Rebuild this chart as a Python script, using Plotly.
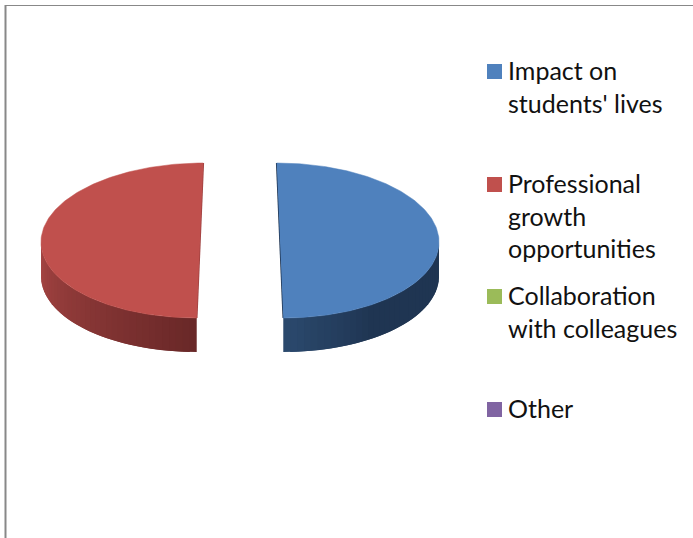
import numpy as np
import plotly.graph_objects as go

categories = ["Impact on<br>students' lives", "Professional<br>growth<br>opportunities",
              "Collaboration<br>with colleagues", "Other"]
values = [50, 50, 0, 0]
top_colors = ["#4f81bd", "#c0504d", "#9bbb59", "#8064a2"]
legend_y = [71.5, 184.5, 296.5, 409.5]

W, H = 693, 538
CX, CY = 240, 240.5
R, RY = 159, 77.5
DEPTH, EXPLODE, PERSP = 34, 40, 0.082


def project(theta, dirx):
    s = 1 - PERSP * np.cos(theta)
    return CX + EXPLODE * dirx * s + R * np.sin(theta), CY - RY * np.cos(theta)


def mix(a, b, t):
    return "rgb(%d,%d,%d)" % tuple(a[i] + (b[i] - a[i]) * t for i in range(3))


def side_color(i, theta):
    if i == 0:  # blue wall: lighter at the cut, dark quickly after
        t = min(1, (np.pi - theta) / np.radians(35))
        return mix((44, 74, 110), (31, 53, 82), t)
    t = min(1, (theta - np.pi) / (np.pi / 2))
    return mix((105, 40, 40), (168, 70, 68), t)


fig = go.Figure()
total = sum(values)
start = 0.0
for i, v in enumerate(values):
    if v == 0:
        continue
    a0, a1 = start, start + v / total * 2 * np.pi
    start = a1
    dirx = np.sin((a0 + a1) / 2)
    # outer wall, painted in overlapping narrow bands for the gradient
    edges = np.linspace(a0, a1, 73)
    step = edges[1] - edges[0]
    visible = [t for t in edges[:-1] if np.cos(t + step / 2) <= 0.02]
    if i == 0:
        visible = visible[::-1]  # paint toward the cut so overlaps stay hidden
    for t0 in visible:
        ts = np.linspace(t0 - (step if i == 0 else 0), t0 + step + (step if i == 1 else 0), 9)
        ts = np.clip(ts, a0, a1)
        xs, ys = project(ts, dirx)
        c = side_color(i, t0 + step / 2)
        fig.add_trace(go.Scatter(
            x=np.r_[xs, xs[::-1]], y=np.r_[ys, ys[::-1] + DEPTH],
            mode="lines", fill="toself", fillcolor=c,
            line=dict(color=c, width=0), hoverinfo="skip", showlegend=False))
    # top face
    ts = np.linspace(a0, a1, 181)
    xs, ys = project(ts, dirx)
    # thin rim of the straight cut face
    fig.add_trace(go.Scatter(
        x=[xs[0], xs[-1]], y=[ys[0], ys[-1]], mode="lines",
        line=dict(color="#1f3552" if i == 0 else "#a04240", width=1.6),
        hoverinfo="skip", showlegend=False))
    fig.add_trace(go.Scatter(
        x=xs, y=ys, mode="lines", fill="toself", fillcolor=top_colors[i],
        line=dict(color=top_colors[i], width=0.5),
        hoverinfo="skip", showlegend=False))

# legend: squares and text
for name, c, y in zip(categories, top_colors, legend_y):
    fig.add_trace(go.Scatter(
        x=[494.5], y=[y], mode="markers",
        marker=dict(symbol="square", size=15, color=c, line=dict(width=0)),
        name=name.replace("<br>", " "), showlegend=False))
    for k, line in enumerate(name.split("<br>")):
        fig.add_annotation(x=506, y=y - 1.5 + k * 32.5, text=line, showarrow=False,
                           xanchor="left", yanchor="middle", xref="x", yref="y",
                           font=dict(family="Lato", size=25, color="#111111"))

# chart frame
fig.add_shape(type="line", x0=5.5, x1=5.5, y0=5, y1=H, line=dict(color="#888888", width=2))
fig.add_shape(type="line", x0=5, x1=W, y0=5.5, y1=5.5, line=dict(color="#888888", width=1))

fig.update_layout(
    width=W, height=H, margin=dict(l=0, r=0, t=0, b=0),
    paper_bgcolor="white", plot_bgcolor="white", showlegend=False,
    xaxis=dict(range=[0, W], visible=False, fixedrange=True),
    yaxis=dict(range=[H, 0], visible=False, fixedrange=True),
)
fig.write_html("out.html", config=dict(displayModeBar=False),
               post_script="document.body.style.margin='0';document.body.style.overflow='hidden';")
